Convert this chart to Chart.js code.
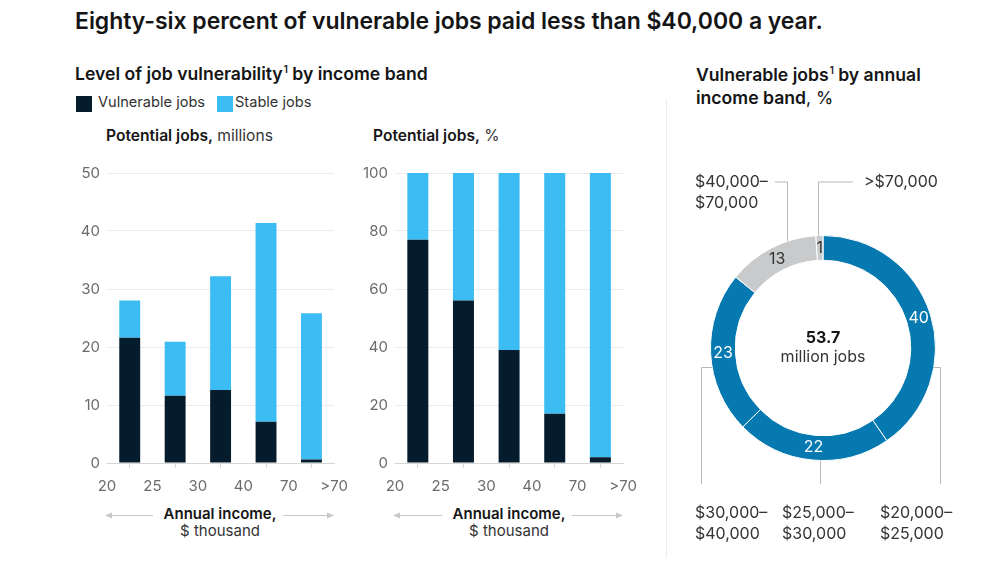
<!DOCTYPE html>
<html><head><meta charset="utf-8">
<script src="https://cdn.jsdelivr.net/npm/chart.js@4.4.1/dist/chart.umd.min.js"></script>
<style>
html,body{margin:0;padding:0;background:#fff}
body{width:1000px;height:564px;position:relative;overflow:hidden;font-family:Inter,"Liberation Sans",sans-serif;color:#151515}
.t{position:absolute;white-space:nowrap;line-height:1.15}
.box{position:absolute}
sup{font-size:0.55em;vertical-align:0;position:relative;top:-0.75em;margin-left:1px;line-height:0}
.sq{position:absolute;width:16px;height:16px}
</style></head><body>

<div class="t" style="left:75px;top:8px;font-size:23px;font-weight:600;letter-spacing:-0.05px">Eighty-six percent of vulnerable jobs paid less than $40,000 a year.</div>
<div class="t" style="left:75px;top:64px;font-size:17.6px;font-weight:600">Level of job vulnerability<sup>1</sup> by income band</div>
<div class="sq" style="left:76px;top:96px;background:#051c2c"></div>
<div class="t" style="left:98px;top:94px;font-size:14.6px;color:#333">Vulnerable jobs</div>
<div class="sq" style="left:217px;top:96px;background:#3bbcf2"></div>
<div class="t" style="left:235px;top:94px;font-size:14.6px;color:#333">Stable jobs</div>
<div class="t" style="left:106px;top:127px;font-size:15.6px;color:#333"><b style="font-weight:600;color:#151515">Potential jobs,</b> millions</div>
<div class="t" style="left:373px;top:127px;font-size:15.6px;color:#333"><b style="font-weight:600;color:#151515">Potential jobs,</b> %</div>

<div class="t" style="left:696px;top:63px;font-size:17.6px;font-weight:600;line-height:23px">Vulnerable jobs<sup>1</sup> by annual<br>income band<span style="font-weight:400">, %</span></div>

<div style="position:absolute;left:666px;top:99px;width:1px;height:459px;background:#ececec"></div>

<div class="t" style="left:160px;top:505px;width:120px;text-align:center;font-size:15px;color:#333"><b style="font-weight:600;color:#151515">Annual income,</b><br>$ thousand</div>
<div class="t" style="left:449px;top:505px;width:120px;text-align:center;font-size:15px;color:#333"><b style="font-weight:600;color:#151515">Annual income,</b><br>$ thousand</div>
<svg style="position:absolute;left:0;top:0" width="1000" height="564">
  <g stroke="#c8c8c8" stroke-width="1" fill="#c8c8c8">
    <line x1="110" y1="515.5" x2="153" y2="515.5"/><path d="M105 515.5 L112 512.5 L112 518.5 Z" stroke="none"/>
    <line x1="283" y1="515.5" x2="327" y2="515.5"/><path d="M334 515.5 L327 512.5 L327 518.5 Z" stroke="none"/>
    <line x1="398" y1="515.5" x2="442" y2="515.5"/><path d="M393 515.5 L400 512.5 L400 518.5 Z" stroke="none"/>
    <line x1="572" y1="515.5" x2="616" y2="515.5"/><path d="M623 515.5 L616 512.5 L616 518.5 Z" stroke="none"/>
  </g>
</svg>

<div class="box" style="left:55px;top:150px;width:302px;height:350px"><canvas id="c1" width="302" height="350"></canvas></div>
<div class="box" style="left:340px;top:150px;width:306px;height:350px"><canvas id="c2" width="306" height="350"></canvas></div>
<div class="box" style="left:680px;top:160px;width:300px;height:395px"><canvas id="c3" width="300" height="395"></canvas></div>

<div class="t" style="left:763px;top:328px;width:120px;text-align:center;font-size:16px;line-height:19px;color:#333"><b style="font-weight:700;color:#151515">53.7</b><br>million jobs</div>

<script>
// ---- data ----
const incomeBands = ['$20–25k', '$25–30k', '$30–40k', '$40–70k', '>$70k'];
const xTickLabels = ['20', '25', '30', '40', '70', '>70'];
const vulnerableMillions = [21.6, 11.6, 12.6, 7.1, 0.6];
const stableMillions = [6.4, 9.3, 19.6, 34.3, 25.2];
const vulnerablePct = [77, 56, 39, 17, 2];
const stablePct = [23, 44, 61, 83, 98];
const shareLabels = [['$20,000–', '$25,000'], ['$25,000–', '$30,000'], ['$30,000–', '$40,000'], ['$40,000–', '$70,000'], ['>$70,000']];
const shareValues = [40, 22, 23, 13, 1];

// ---- styles ----
Chart.defaults.font.family = 'Inter, "Liberation Sans", sans-serif';
Chart.defaults.animation = false;
const DARK = '#051c2c', LIGHT = '#3bbcf2', RING = '#0679b1', GREY = '#c8cacc';

function toPoints(arr) { return arr.map((v, i) => ({ x: i + 0.5, y: v })); }

function barChart(id, vul, sta, maxY, step, yWidth) {
  return new Chart(document.getElementById(id), {
    type: 'bar',
    data: {
      datasets: [
        { label: 'Vulnerable jobs', data: toPoints(vul), backgroundColor: DARK, stack: 's', categoryPercentage: 1, barPercentage: 0.46 },
        { label: 'Stable jobs', data: toPoints(sta), backgroundColor: LIGHT, stack: 's', categoryPercentage: 1, barPercentage: 0.46 }
      ]
    },
    options: {
      responsive: false,
      animation: false,
      layout: { padding: { top: 23, right: 0, left: 0, bottom: 0 } },
      plugins: { legend: { display: false }, tooltip: { enabled: false } },
      scales: {
        x: {
          type: 'linear', min: 0, max: incomeBands.length, stacked: true, offset: false,
          ticks: { stepSize: 1, autoSkip: false, maxRotation: 0, padding: 9, color: '#6b6b6b', font: { size: 15 },
            callback: (v) => xTickLabels[v] },
          grid: { drawOnChartArea: false, drawTicks: true, tickLength: 5, color: '#d6d6d6' },
          border: { display: true, color: '#d6d6d6' },
          afterFit: (s) => { s.height = 37; }
        },
        y: {
          min: 0, max: maxY, stacked: true,
          ticks: { stepSize: step, padding: 7, color: '#6b6b6b', font: { size: 15 } },
          grid: { color: '#ebebeb', drawTicks: false },
          border: { display: false },
          afterFit: (s) => { s.width = yWidth; }
        }
      }
    }
  });
}
barChart('c1', vulnerableMillions, stableMillions, 50, 10, 52);
barChart('c2', vulnerablePct, stablePct, 100, 20, 55);

// leader-line layout for the ring labels (offsets relative to ring centre / radius)
const leaderLayout = [
  { side: 'right', d: 19, elbow: 117, end: 136, tx: 57, ty: 165 },
  { side: 'bottom', d: -3, end: 136, tx: -41, ty: 165 },
  { side: 'left', d: 19, elbow: -122, end: 136, tx: -128, ty: 165 },
  { side: 'top', d: -36, end: -166, elbow: -48, tx: -128, ty: -166 },
  { side: 'top', d: -5, end: -166, elbow: 30, tx: 41, ty: -166 }
];

const ringLabels = {
  id: 'ringLabels',
  afterDatasetsDraw(chart) {
    const ctx = chart.ctx;
    const meta = chart.getDatasetMeta(0);
    ctx.save();
    ctx.font = '16px Inter, "Liberation Sans", sans-serif';
    ctx.textAlign = 'center'; ctx.textBaseline = 'middle';
    meta.data.forEach((arc, i) => {
      const p = arc.getProps(['x', 'y', 'startAngle', 'endAngle', 'innerRadius', 'outerRadius'], true);
      const a = (p.startAngle + p.endAngle) / 2;
      const r = (p.innerRadius + p.outerRadius) / 2;
      ctx.fillStyle = chart.data.datasets[0].backgroundColor[i] === RING ? '#ffffff' : '#333333';
      ctx.fillText(String(chart.data.datasets[0].data[i]), p.x + Math.cos(a) * r, p.y + Math.sin(a) * r);
    });
    const c = meta.data[0];
    const cx = c.x, cy = c.y, R = c.outerRadius;
    ctx.strokeStyle = '#b9b9b9'; ctx.lineWidth = 1;
    ctx.textAlign = 'left';
    leaderLayout.forEach((L, i) => {
      ctx.beginPath();
      if (L.side === 'top' || L.side === 'bottom') {
        const sgn = L.side === 'top' ? -1 : 1;
        const x = Math.round(cx + L.d) + 0.5;
        ctx.moveTo(x, cy + sgn * Math.sqrt(R * R - L.d * L.d));
        ctx.lineTo(x, cy + L.end);
        if (L.elbow !== undefined) ctx.lineTo(cx + L.elbow, cy + L.end);
      } else {
        const sgn = L.side === 'left' ? -1 : 1;
        const y = Math.round(cy + L.d) + 0.5;
        const ex = Math.round(cx + L.elbow) + 0.5;
        ctx.moveTo(cx + sgn * Math.sqrt(R * R - L.d * L.d), y);
        ctx.lineTo(ex, y);
        ctx.lineTo(ex, cy + L.end);
      }
      ctx.stroke();
      ctx.fillStyle = '#333333';
      const lines = [].concat(chart.data.labels[i]);
      lines.forEach((s, k) => ctx.fillText(s, cx + L.tx, cy + L.ty + k * 21));
    });
    ctx.restore();
  }
};

new Chart(document.getElementById('c3'), {
  type: 'doughnut',
  data: {
    labels: shareLabels,
    datasets: [{ data: shareValues, backgroundColor: [RING, RING, RING, GREY, GREY], borderColor: '#ffffff', borderWidth: 1 }]
  },
  options: {
    responsive: false,
    animation: false,
    cutout: '78%',
    layout: { padding: { left: 30, right: 44, top: 75, bottom: 94 } },
    plugins: { legend: { display: false }, tooltip: { enabled: false } }
  },
  plugins: [ringLabels]
});
</script>
</body></html>
